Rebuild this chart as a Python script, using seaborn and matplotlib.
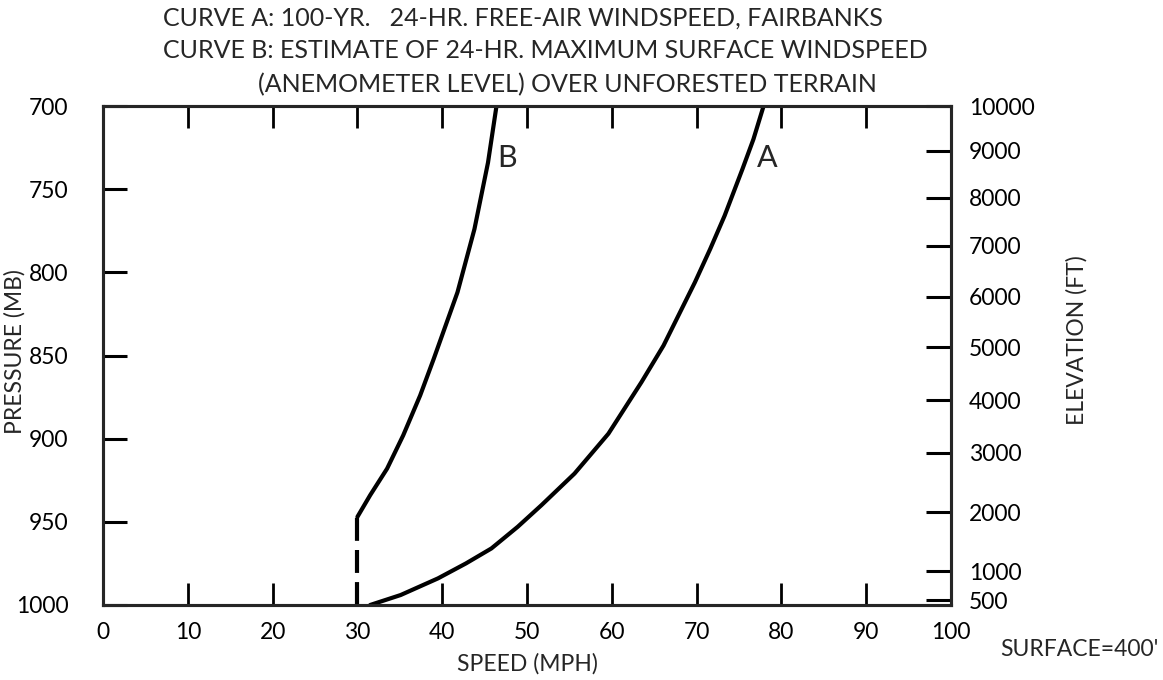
import matplotlib
matplotlib.use('Agg')
import matplotlib.pyplot as plt
import seaborn as sns
import pandas as pd

sns.set_style('white')
plt.rcParams['font.family'] = ['Lato', 'DejaVu Sans']

# Curve A: 100-yr 24-hr free-air windspeed (speed mph vs pressure mb)
a_pressure = [1000, 994, 984, 975, 966, 953, 940, 921, 897, 866, 844, 806, 786, 766, 738, 720, 700]
a_speed = [31.5, 35.1, 39.5, 42.8, 45.8, 48.9, 51.7, 55.6, 59.6, 63.5, 66.1, 69.8, 71.6, 73.3, 75.4, 76.7, 77.9]

# Curve B: 24-hr max surface windspeed estimate
b_pressure = [947, 934, 918, 898, 874, 852, 812, 774, 734, 700]
b_speed = [30.0, 31.5, 33.5, 35.4, 37.4, 39.0, 41.8, 43.8, 45.4, 46.4]
b_dash_pressure = [1000, 947]
b_dash_speed = [30.0, 30.0]

# right axis: elevation (ft) and the pressure level it sits at
elev_labels = ['10000', '9000', '8000', '7000', '6000', '5000', '4000', '3000', '2000', '1000', '500']
elev_pressure = [698, 725, 753.5, 782.5, 813.5, 844, 876, 908, 944, 979.5, 997]

x_ticks = [0, 10, 20, 30, 40, 50, 60, 70, 80, 90, 100]
p_ticks = [700, 750, 800, 850, 900, 950, 1000]

df_a = pd.DataFrame({'speed': a_speed, 'pressure': a_pressure})
df_b = pd.DataFrame({'speed': b_speed, 'pressure': b_pressure})
df_bd = pd.DataFrame({'speed': b_dash_speed, 'pressure': b_dash_pressure})

fig = plt.figure(figsize=(11.63, 6.8), dpi=100)
ax = fig.add_axes([0.0886, 0.1103, 0.7291, 0.7338])

sns.lineplot(data=df_a, x='speed', y='pressure', sort=False, estimator=None,
             color='black', linewidth=3.0, ax=ax)
sns.lineplot(data=df_b, x='speed', y='pressure', sort=False, estimator=None,
             color='black', linewidth=3.0, ax=ax)
sns.lineplot(data=df_bd, x='speed', y='pressure', sort=False, estimator=None,
             color='black', linewidth=3.0, ax=ax, linestyle=(0, (5.5, 2.2)))

ax.set_xlim(0, 100)
ax.set_ylim(1000, 700)
ax.set_xticks(x_ticks)
ax.set_yticks(p_ticks)
ax.set_xticklabels([str(t) for t in x_ticks])
ax.set_yticklabels([str(t) for t in p_ticks])

for s in ax.spines.values():
    s.set_linewidth(2.2)
    s.set_color('black')

ax.tick_params(axis='x', direction='in', length=16, width=2.0, top=True, bottom=True,
               labelsize=16.5, pad=12, colors='black')
ax.tick_params(axis='y', direction='in', length=17, width=2.2, left=True,
               labelsize=16.5, pad=25, colors='black')

ax.set_xlabel('SPEED (MPH)', fontsize=16.5)
ax.set_ylabel('PRESSURE (MB)', fontsize=16.5)
ax.xaxis.set_label_coords(0.5, -0.097)
ax.yaxis.set_label_coords(-0.091, 0.507)

ax.text(47.7, 731, 'B', fontsize=22, ha='center', va='center')
ax.text(78.3, 731, 'A', fontsize=22, ha='center', va='center')

ax2 = ax.twinx()
ax2.set_ylim(1000, 700)
ax2.set_yticks(elev_pressure)
ax2.set_yticklabels(elev_labels)
ax2.tick_params(axis='y', direction='in', length=18, width=2.2, right=True,
                labelsize=16.5, pad=13, colors='black')
for s in ax2.spines.values():
    s.set_linewidth(2.2)
ax2.set_ylabel('ELEVATION (FT)', fontsize=16.5)
ax2.yaxis.set_label_coords(1.136, 0.531)

fig.text(163 / 1163, 1 - 18 / 680, 'CURVE A: 100-YR.   24-HR. FREE-AIR WINDSPEED, FAIRBANKS',
         fontsize=18, ha='left', va='center')
fig.text(163 / 1163, 1 - 51 / 680, 'CURVE B: ESTIMATE OF 24-HR. MAXIMUM SURFACE WINDSPEED',
         fontsize=18, ha='left', va='center')
fig.text(258 / 1163, 1 - 85 / 680, '(ANEMOMETER LEVEL) OVER UNFORESTED TERRAIN',
         fontsize=18, ha='left', va='center')
fig.text(1000 / 1163, 1 - 650 / 680, "SURFACE=400'", fontsize=16.5, ha='left', va='center')

fig.savefig('out.png', dpi=100)
